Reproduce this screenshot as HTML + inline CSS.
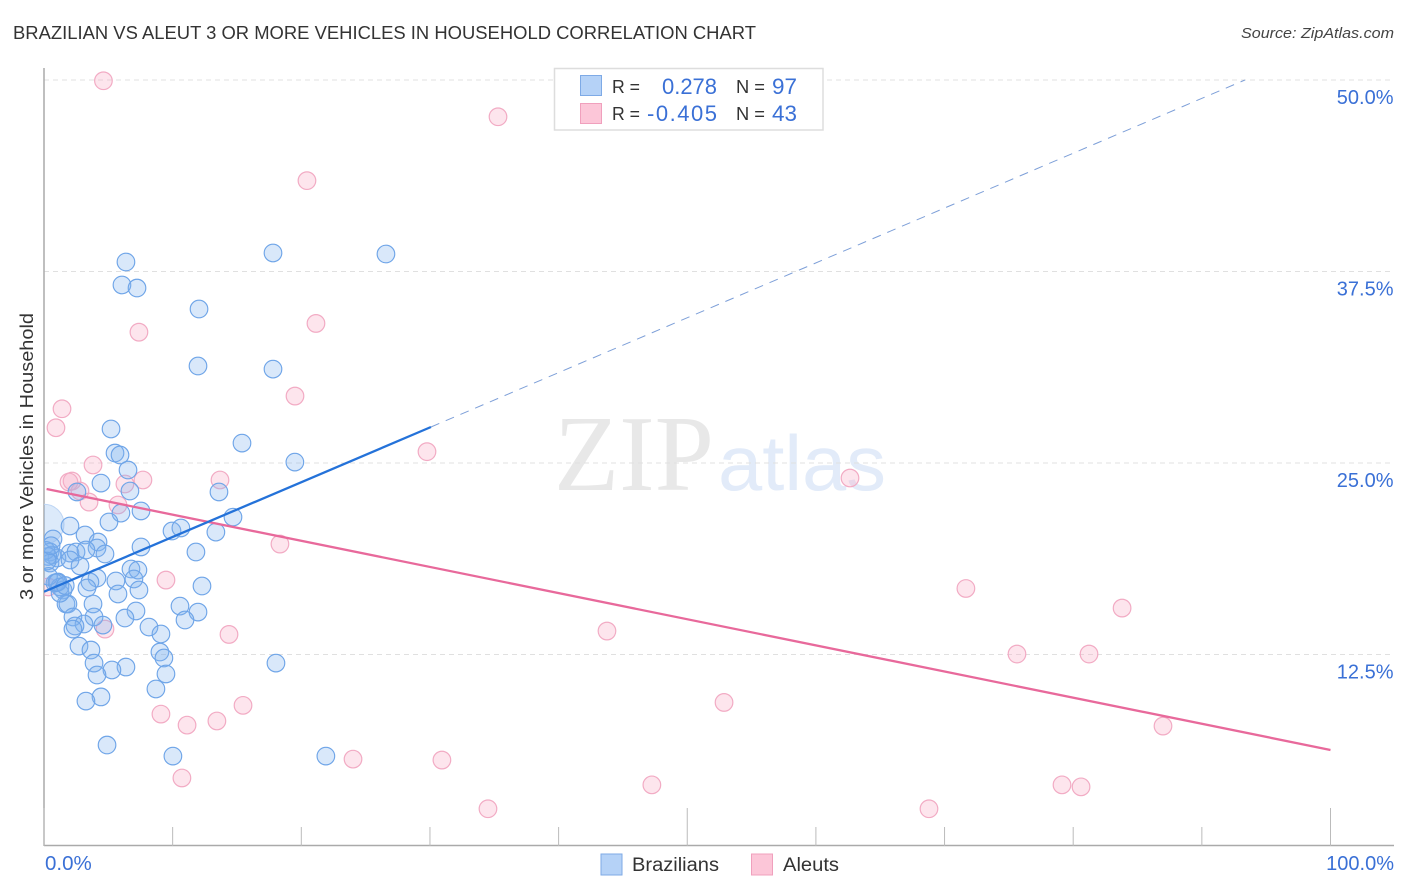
<!DOCTYPE html>
<html>
<head>
<meta charset="utf-8">
<title>Brazilian vs Aleut 3 or More Vehicles in Household Correlation Chart</title>
<style>
html,body{margin:0;padding:0;background:#fff;}
svg{display:block;}
text{font-family:"Liberation Sans",sans-serif;}
</style>
</head>
<body>
<svg id="chart" width="1406" height="892" viewBox="0 0 1406 892" xmlns="http://www.w3.org/2000/svg">
  <defs><clipPath id="plot-clip"><rect x="44" y="60" width="1350" height="786"/></clipPath></defs>
  <text x="13" y="39" font-size="18" fill="#333" textLength="743" lengthAdjust="spacingAndGlyphs">BRAZILIAN VS ALEUT 3 OR MORE VEHICLES IN HOUSEHOLD CORRELATION CHART</text>
  <text x="1394" y="38" font-size="15" font-style="italic" fill="#444" text-anchor="end" textLength="153" lengthAdjust="spacingAndGlyphs">Source: ZipAtlas.com</text>
  <g>
    <text x="554" y="490" font-size="108" fill="#e8e8e8" textLength="160" lengthAdjust="spacingAndGlyphs" style="font-family:'Liberation Serif',serif">ZIP</text>
    <text x="718" y="490" font-size="78" fill="#e2ebf9" textLength="168" lengthAdjust="spacingAndGlyphs">atlas</text>
  </g>
  <g id="grid"></g>
  <g id="axes"></g>
  <g id="aleut-points" clip-path="url(#plot-clip)"></g>
  <g id="brazilian-points" clip-path="url(#plot-clip)"></g>
  <g id="trends" clip-path="url(#plot-clip)"></g>
  <g id="labels"></g>
  <text transform="translate(33,600) rotate(-90)" font-size="18.5" fill="#333" textLength="287" lengthAdjust="spacingAndGlyphs">3 or more Vehicles in Household</text>

  <g>
    <rect x="554.5" y="68.5" width="268.5" height="61.5" fill="#fff" stroke="#ddd" stroke-width="1.5"/>
    <rect x="580.5" y="75.5" width="21" height="20" fill="#b5d2f7" stroke="#7eaae6" stroke-width="1"/>
    <rect x="580.5" y="103.5" width="21" height="20" fill="#fcc6d8" stroke="#f0a0bd" stroke-width="1"/>
    <text x="612" y="93" font-size="18" fill="#333" textLength="28" lengthAdjust="spacingAndGlyphs">R =</text>
    <text x="662" y="94" font-size="22" fill="#3a70d6" textLength="55" lengthAdjust="spacingAndGlyphs">0.278</text>
    <text x="736" y="93" font-size="18" fill="#333" textLength="29" lengthAdjust="spacingAndGlyphs">N =</text>
    <text x="772" y="94" font-size="22" fill="#3a70d6" textLength="25" lengthAdjust="spacingAndGlyphs">97</text>
    <text x="612" y="120" font-size="18" fill="#333" textLength="28" lengthAdjust="spacingAndGlyphs">R =</text>
    <text x="647" y="121" font-size="22" fill="#3a70d6" textLength="70" lengthAdjust="spacing">-0.405</text>
    <text x="736" y="120" font-size="18" fill="#333" textLength="29" lengthAdjust="spacingAndGlyphs">N =</text>
    <text x="772" y="121" font-size="22" fill="#3a70d6" textLength="25" lengthAdjust="spacingAndGlyphs">43</text>
  </g>

  <g>
    <rect x="601" y="854" width="21" height="21" fill="#b5d2f7" stroke="#7eaae6" stroke-width="1"/>
    <text x="632" y="871" font-size="19" fill="#333" textLength="87" lengthAdjust="spacingAndGlyphs">Brazilians</text>
    <rect x="751.5" y="854" width="21" height="21" fill="#fcc6d8" stroke="#f0a0bd" stroke-width="1"/>
    <text x="783" y="871" font-size="19" fill="#333" textLength="56" lengthAdjust="spacingAndGlyphs">Aleuts</text>
  </g>
</svg>
<script>
const yTickValues = [12.5, 25, 37.5, 50];
const yTickLabels = ["12.5%", "25.0%", "37.5%", "50.0%"];
const xTickValues = [0, 10, 20, 30, 40, 50, 60, 70, 80, 90, 100];
const xMajorTicks = [0, 50, 100];
const xEndLabels = ["0.0%", "100.0%"];

const brazilianX = [6.37,17.80,26.58,6.06,7.23,12.05,11.97,17.80,5.21,5.52,5.91,6.53,15.39,19.50,6.68,2.56,13.60,4.43,5.98,7.54,5.05,2.02,9.95,10.64,14.69,13.36,3.19,0.70,4.20,7.54,11.81,4.12,4.74,2.02,2.49,0.47,3.26,0.62,1.01,2.02,2.80,0.47,6.76,7.30,5.59,6.99,4.12,3.57,3.34,7.38,5.75,1.09,0.85,1.48,1.24,1.71,1.86,3.81,12.28,10.57,11.97,10.96,7.15,6.29,3.89,2.25,3.11,4.58,8.16,9.09,2.41,2.25,2.72,3.65,9.01,9.32,3.89,6.37,5.28,4.12,9.48,18.03,8.70,4.43,3.26,4.90,10.02,21.91,0.15,0.30,0.25,0.55,0.35,1.25,1.00,1.65];
const brazilianY = [38.12,38.71,38.64,36.62,36.42,35.05,31.33,31.13,27.22,25.65,25.52,24.54,26.30,25.06,23.17,23.11,23.11,23.69,21.73,21.87,21.15,20.89,20.56,20.76,21.47,20.49,20.30,20.04,19.84,19.52,19.19,19.45,19.06,19.12,19.19,19.19,19.32,18.99,18.80,18.67,18.28,18.47,18.08,18.01,17.30,17.43,17.49,17.23,16.84,16.71,16.45,17.23,17.17,16.71,16.91,15.80,15.80,15.80,16.97,15.66,15.27,14.75,15.34,14.88,14.95,14.95,14.49,14.42,14.29,13.84,14.36,14.16,13.05,12.79,12.66,12.27,11.94,11.68,11.49,11.16,11.23,11.94,10.25,9.73,9.46,6.59,5.87,5.87,19.30,18.90,18.60,19.60,17.60,16.50,17.20,17.00];
const brazilianOutlierX = [0];
const brazilianOutlierY = [21];

const aleutX = [4.62,35.29,20.44,21.14,7.38,1.40,0.93,19.51,29.77,3.81,2.18,1.94,7.69,13.68,2.80,6.29,3.50,5.75,62.65,18.34,9.48,71.66,83.80,43.76,4.74,14.38,75.63,81.23,9.09,11.12,13.44,15.47,52.86,86.98,24.02,30.93,10.72,47.25,79.13,80.61,34.51,68.79,0.31];
const aleutY = [49.95,47.60,43.43,34.11,33.54,28.54,27.30,29.37,25.74,24.87,23.82,23.76,23.89,23.89,23.17,23.63,22.45,22.26,24.02,19.71,17.36,16.81,15.53,14.03,14.16,13.81,12.53,12.53,8.61,7.89,8.16,9.18,9.37,7.83,5.67,5.61,4.44,3.99,3.99,3.86,2.43,2.43,16.91];

const brazilianTrendXSolid = [0, 30.08];
const brazilianTrendYSolid = [16.6, 27.35];
const brazilianTrendXDashed = [30.08, 93.35];
const brazilianTrendYDashed = [27.35, 50];
const aleutTrendX = [0.2, 100];
const aleutTrendY = [23.3, 6.27];

const svgNS = "http://www.w3.org/2000/svg";
const xScale = function (v) { return 44 + v * 12.865; };
const yScale = function (v) { return 846 - v * 15.32; };

function make(tag, attrs, parent) {
  const el = document.createElementNS(svgNS, tag);
  Object.keys(attrs).forEach(function (k) { el.setAttribute(k, attrs[k]); });
  parent.appendChild(el);
  return el;
}

const grid = document.getElementById("grid");
const axes = document.getElementById("axes");
const labels = document.getElementById("labels");
const trends = document.getElementById("trends");
const aleutGroup = document.getElementById("aleut-points");
const brazilianGroup = document.getElementById("brazilian-points");

yTickValues.forEach(function (v, i) {
  const line = make("line", {x1: 44, x2: 1393, y1: yScale(v), y2: yScale(v), stroke: "#e0e0e0", "stroke-width": 1, "stroke-dasharray": "5 4"}, grid);
  
  
  const t = make("text", {x: 1393.5, y: yScale(v) + 24, "font-size": 20, fill: "#3a70d6", "text-anchor": "end"}, labels);
  
  
  t.textContent = yTickLabels[i];
});

const yAxis = make("line", {x1: 44, x2: 44, y1: 68, y2: 846, stroke: "#aaa", "stroke-width": 1.5}, axes);


const xAxis = make("line", {x1: 44, x2: 1394, y1: 845.5, y2: 845.5, stroke: "#aaa", "stroke-width": 1.5}, axes);



xTickValues.forEach(function (v) {
  const top = xMajorTicks.indexOf(v) >= 0 ? 808 : 827;
  const tick = make("line", {x1: xScale(v), x2: xScale(v), y1: top, y2: 846, stroke: "#bbb", "stroke-width": 1}, axes);
  
  
});

const xLabelLeft = make("text", {x: xScale(0) + 1, y: 870, "font-size": 20.5, fill: "#3a70d6"}, labels);


xLabelLeft.textContent = xEndLabels[0];
const xLabelRight = make("text", {x: 1394, y: 870, "font-size": 20, fill: "#3a70d6", "text-anchor": "end"}, labels);


xLabelRight.textContent = xEndLabels[1];

aleutX.forEach(function (v, i) {
  const c = make("circle", {cx: xScale(v), cy: yScale(aleutY[i]), r: 8.8, fill: "rgba(248,175,200,0.33)", stroke: "#f2abc4", "stroke-width": 1.2}, aleutGroup);
  
  
});

brazilianOutlierX.forEach(function (v, i) {
  const c = make("circle", {cx: xScale(v), cy: yScale(brazilianOutlierY[i]), r: 20, fill: "rgba(140,185,240,0.3)", stroke: "#bdd5f4", "stroke-width": 1}, brazilianGroup);
  
  
});

brazilianX.forEach(function (v, i) {
  const c = make("circle", {cx: xScale(v), cy: yScale(brazilianY[i]), r: 8.8, fill: "rgba(130,180,240,0.3)", stroke: "#6fa5e8", "stroke-width": 1.15}, brazilianGroup);
  
  
});

const aleutLine = make("line", {x1: xScale(aleutTrendX[0]), y1: yScale(aleutTrendY[0]), x2: xScale(aleutTrendX[1]), y2: yScale(aleutTrendY[1]), stroke: "#e8699b", "stroke-width": 2.3}, trends);


const brazilianLine = make("line", {x1: xScale(brazilianTrendXSolid[0]), y1: yScale(brazilianTrendYSolid[0]), x2: xScale(brazilianTrendXSolid[1]), y2: yScale(brazilianTrendYSolid[1]), stroke: "#2472d9", "stroke-width": 2.3}, trends);


const brazilianDashed = make("line", {x1: xScale(brazilianTrendXDashed[0]), y1: yScale(brazilianTrendYDashed[0]), x2: xScale(brazilianTrendXDashed[1]), y2: yScale(brazilianTrendYDashed[1]), stroke: "#7d9fd8", "stroke-width": 1, "stroke-dasharray": "9 7"}, trends);


</script>
</body>
</html>
